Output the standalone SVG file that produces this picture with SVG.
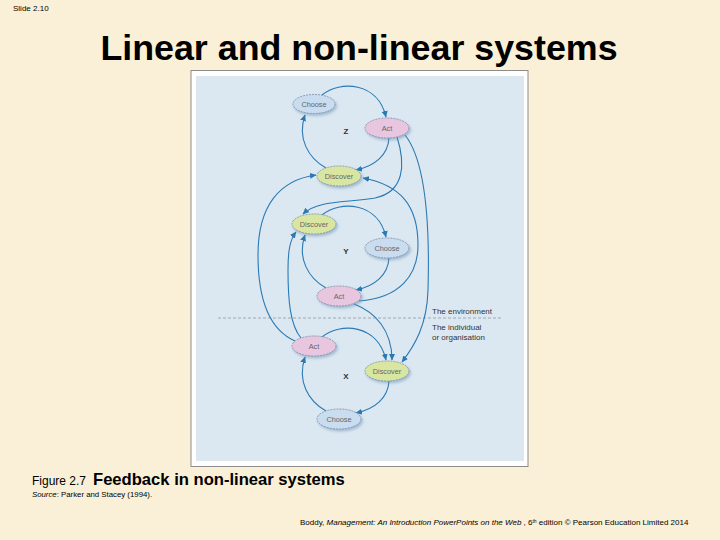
<svg xmlns="http://www.w3.org/2000/svg" width="720" height="540" viewBox="0 0 720 540">
<defs>
<style>
.bg{fill:#FAF0D7}
.t{font-family:"Liberation Sans",Arial,sans-serif}
.node{stroke:#7d8fa3;stroke-width:0.8;stroke-dasharray:2 1;filter:url(#sh)}
.choose{fill:#C9DCF0}
.act{fill:#E9C6E0}
.disc{fill:#D8E6A2}
.nl{font-family:"Liberation Sans",Arial,sans-serif;font-size:7.3px;fill:#666;text-anchor:middle}
.c{fill:none;stroke:#2A79B3;stroke-width:1.1;marker-end:url(#ah)}
.lab{font-family:"Liberation Sans",Arial,sans-serif;font-size:8px;fill:#333}
</style>
<filter id="sh" x="-30%" y="-40%" width="160%" height="190%">
<feDropShadow dx="1.5" dy="2" stdDeviation="1.5" flood-color="#6a8fb5" flood-opacity="0.55"/>
</filter>
<marker id="ah" markerUnits="userSpaceOnUse" markerWidth="7" markerHeight="6" refX="6" refY="3" orient="auto">
<path d="M0,0 L6.5,3 L0,6 z" fill="#2A79B3"/>
</marker>
</defs>
<rect class="bg" x="0" y="0" width="720" height="540"/>
<text class="t" x="13" y="11" font-size="8" fill="#000">Slide 2.10</text>
<text class="t" x="359" y="60" font-size="35.8" font-weight="bold" fill="#000" text-anchor="middle">Linear and non-linear systems</text>
<g id="figure">
<rect x="191" y="70.5" width="337" height="396" fill="#ffffff" stroke="#8c8c8c" stroke-width="1"/>
<rect x="196" y="76" width="328" height="385" fill="#DCE8F1"/>
<line x1="218" y1="318" x2="502" y2="318" stroke="#8d99a5" stroke-width="0.8" stroke-dasharray="3 2"/>
<text class="lab" x="432" y="314">The environment</text>
<text class="lab" x="432" y="330">The individual</text>
<text class="lab" x="432" y="339.5">or organisation</text>
<text class="lab" x="346" y="134" text-anchor="middle" font-weight="bold" font-size="7">Z</text>
<text class="lab" x="346" y="254" text-anchor="middle" font-weight="bold" font-size="7">Y</text>
<text class="lab" x="346" y="379" text-anchor="middle" font-weight="bold" font-size="7">X</text>
</g>
<g id="connectors">
<path class="c" d="M322 95 C340 80 378 82 386 117"/>
<path class="c" d="M389 138 C388 155 375 166 356 170"/>
<path class="c" d="M326 168 C308 158 297 138 305 115"/>
<path class="c" d="M322 215 C340 200 378 202 386 237"/>
<path class="c" d="M389 258 C388 275 375 286 356 290"/>
<path class="c" d="M326 288 C308 278 297 258 305 235"/>
<path class="c" d="M322 337 C340 322 378 324 386 360"/>
<path class="c" d="M389 381 C388 398 375 409 356 413"/>
<path class="c" d="M326 411 C308 401 297 381 305 357"/>
<path class="c" d="M397 137 C406 165 404 192 375 198 C345 203 318 200 303 214"/>
<path class="c" d="M405 135 C425 160 430 220 428 290 C427 325 415 345 402 362"/>
<path class="c" d="M359 301 C400 298 418 275 418 245 C418 205 400 185 363 178"/>
<path class="c" d="M295 341 C270 330 258 300 258 255 C258 205 280 180 316 175"/>
<path class="c" d="M301 338 C290 325 288 300 288 270 C288 250 290 240 296 232"/>
<path class="c" d="M354 304 C375 312 392 330 392 360"/>
</g>
<g id="choose-z"><ellipse class="node choose" cx="314" cy="104" rx="21" ry="9.5"/><text class="nl" x="314" y="106.5">Choose</text></g>
<g id="act-z"><ellipse class="node act" cx="387" cy="128" rx="22" ry="10"/><text class="nl" x="387" y="130.5">Act</text></g>
<g id="discover-z"><ellipse class="node disc" cx="339" cy="176" rx="22" ry="10"/><text class="nl" x="339" y="178.5">Discover</text></g>
<g id="discover-y"><ellipse class="node disc" cx="314" cy="224" rx="22" ry="10"/><text class="nl" x="314" y="226.5">Discover</text></g>
<g id="choose-y"><ellipse class="node choose" cx="387" cy="248" rx="22" ry="10"/><text class="nl" x="387" y="250.5">Choose</text></g>
<g id="act-y"><ellipse class="node act" cx="339" cy="296" rx="22" ry="10"/><text class="nl" x="339" y="298.5">Act</text></g>
<g id="act-x"><ellipse class="node act" cx="314" cy="346" rx="22" ry="10"/><text class="nl" x="314" y="348.5">Act</text></g>
<g id="discover-x"><ellipse class="node disc" cx="387" cy="371" rx="22" ry="10"/><text class="nl" x="387" y="373.5">Discover</text></g>
<g id="choose-x"><ellipse class="node choose" cx="339" cy="419" rx="22" ry="10"/><text class="nl" x="339" y="421.5">Choose</text></g>
<text class="t" x="32" y="485" font-size="12" fill="#000">Figure 2.7</text>
<text class="t" x="93" y="485" font-size="16.6" font-weight="bold" fill="#000">Feedback in non-linear systems</text>
<text class="t" x="32" y="497" font-size="7.8" fill="#000"><tspan font-style="italic">Source</tspan>: Parker and Stacey (1994).</text>
<text class="t" x="300" y="525" font-size="8" fill="#000">Boddy, <tspan font-style="italic">Management: An Introduction PowerPoints on the Web</tspan> , 6<tspan font-size="5" dy="-2.5">th</tspan><tspan dy="2.5"> edition © Pearson Education Limited 2014</tspan></text>
</svg>
